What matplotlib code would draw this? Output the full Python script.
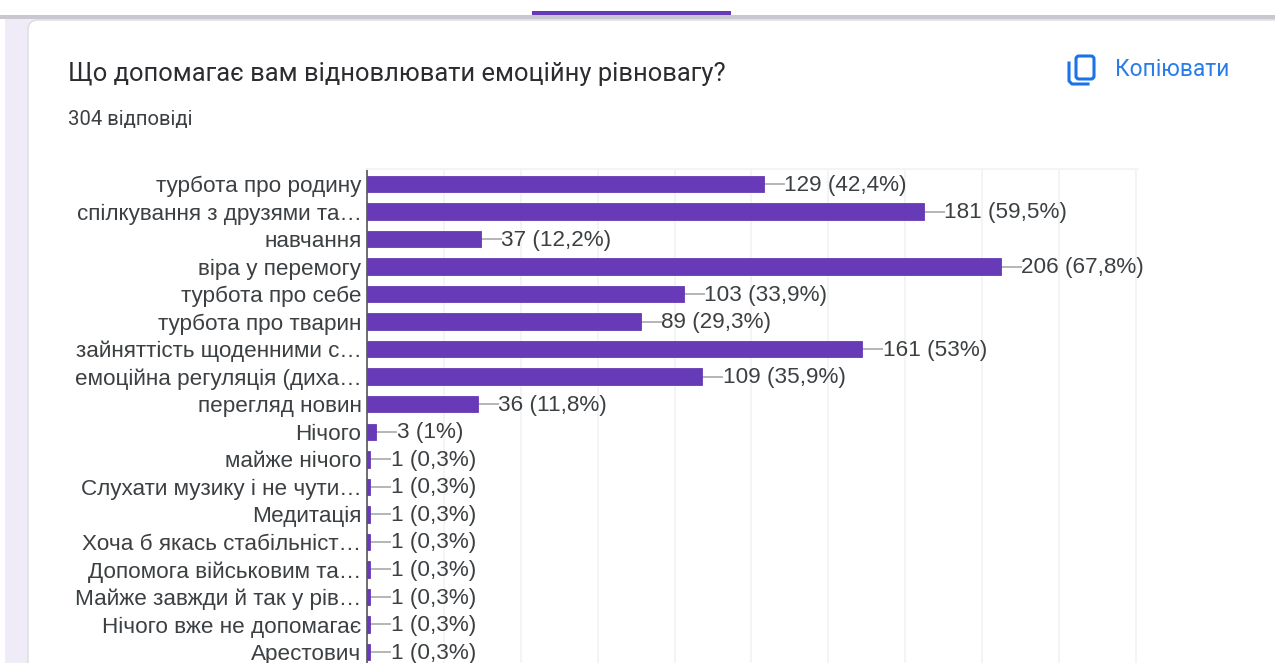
import matplotlib
matplotlib.use("Agg")
import matplotlib.pyplot as plt
from matplotlib.patches import FancyBboxPatch, Rectangle

W, H = 1275, 663

labels = ["турбота про родину", "спілкування з друзями та…", "навчання", "віра у перемогу",
          "турбота про себе", "турбота про тварин", "зайняттість щоденними с…",
          "емоційна регуляція (диха…", "перегляд новин", "Нічого", "майже нічого",
          "Слухати музику і не чути…", "Медитація", "Хоча б якась стабільніст…",
          "Допомога військовим та…", "Майже завжди й так у рів…", "Нічого вже не допомагає",
          "Арестович"]
values = [129, 181, 37, 206, 103, 89, 161, 109, 36, 3, 1, 1, 1, 1, 1, 1, 1, 1]
percents = ["42,4%", "59,5%", "12,2%", "67,8%", "33,9%", "29,3%", "53%", "35,9%", "11,8%",
            "1%", "0,3%", "0,3%", "0,3%", "0,3%", "0,3%", "0,3%", "0,3%", "0,3%"]
grid_ticks = [0, 25, 50, 75, 100, 125, 150, 175, 200, 225, 250]

purple = "#673ab7"
text_col = "#3c4043"

fig = plt.figure(figsize=(W / 100, H / 100), dpi=100, facecolor="white")

# page behind the chart, in pixels
bg = fig.add_axes([0, 0, 1, 1])
bg.set_xlim(0, W)
bg.set_ylim(H, 0)
bg.axis("off")
bg.add_patch(Rectangle((5, 19), W, H, fc="#efebf7", ec="none"))
bg.add_patch(Rectangle((0, 15), W, 4, fc="#c9c7cf", ec="none"))
bg.add_patch(Rectangle((532, 11), 199, 4, fc=purple, ec="none"))
bg.add_patch(FancyBboxPatch((36, 28), W, H, boxstyle="round,pad=8,rounding_size=10",
                            fc="white", ec="#dadce0", lw=1))
bg.text(68, 73.5, "Що допомагає вам відновлювати емоційну рівновагу?", family="Roboto",
        fontsize=18.35, color="#2b2c2f", va="center", ha="left")
bg.text(68, 119, "304 відповіді", family="Roboto", fontsize=14.6, color="#3c4043",
        va="center", ha="left")
bg.text(1115, 70, "Копіювати", family="Roboto", fontsize=16.4, color="#2a7de9",
        va="center", ha="left")
# copy icon
bg.add_patch(FancyBboxPatch((1076, 56), 18, 23, boxstyle="round,pad=0,rounding_size=3",
                            fc="white", ec="#1a73e8", lw=2.2))
bg.plot([1069, 1069, 1072, 1088], [63, 81, 84, 84], color="#1a73e8", lw=2.2)

# chart
left, right, top = 367, 1138, 169
ax = fig.add_axes([left / W, 0, (right - left) / W, (H - top) / H])
ax.patch.set_alpha(0)
rows = list(range(len(labels)))
ax.barh(rows, values, height=0.6, color=purple, edgecolor=purple, lw=0.6, zorder=3)

for r, v, p in zip(rows, values, percents):
    ax.plot([v, v + 6.5], [r, r], color="#b5b5b5", lw=1.4, zorder=2)
    ax.text(v + 6.7, r + 0.04, f"{v} ({p})", fontsize=16.2, family="Liberation Sans",
            color=text_col, va="center", ha="left")

ax.set_xlim(0, 250.7)
ax.set_ylim(17.4, -0.545)
ax.set_xticks(grid_ticks)
ax.tick_params(axis="x", bottom=False, labelbottom=False)
ax.grid(axis="x", color="#f4f4f4", lw=1.4, zorder=0)
ax.set_yticks(rows)
ax.set_yticklabels(labels, fontsize=16.2, family="Liberation Sans", color=text_col)
ax.tick_params(axis="y", length=0, pad=4)
for s in ["right", "bottom"]:
    ax.spines[s].set_visible(False)
ax.spines["top"].set_color("#f4f4f4")
ax.spines["top"].set_linewidth(1.4)
ax.spines["left"].set_color("#5f6368")
ax.spines["left"].set_linewidth(1.3)

fig.savefig("out.png", dpi=100)
